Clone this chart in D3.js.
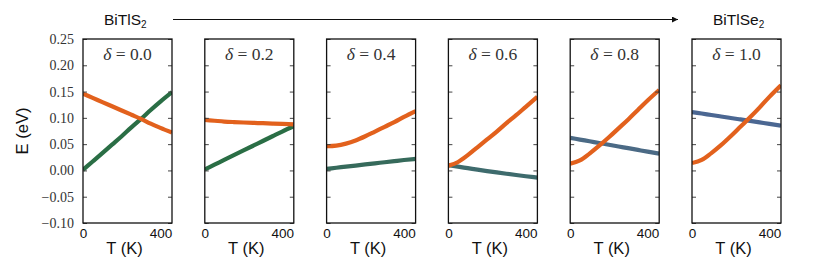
<!DOCTYPE html>
<html>
<head>
<meta charset="utf-8">
<script src="https://cdn.jsdelivr.net/npm/d3@7"></script>
<style>
  body { margin: 0; background: #fff; }
  svg { display: block; }
</style>
</head>
<body>
<svg id="chart" width="830" height="266"></svg>
<script>
// composition steps, BiTlS2 -> BiTlSe2
const deltas = [0.0, 0.2, 0.4, 0.6, 0.8, 1.0]
const temps = [0, 50, 100, 150, 200, 250, 300, 350, 400, 460]

// orange band (one row per delta)
const orangeBand = [
  [0.146, 0.138, 0.130, 0.122, 0.114, 0.106, 0.098, 0.089, 0.081, 0.072],
  [0.096, 0.0945, 0.093, 0.092, 0.0912, 0.0905, 0.0898, 0.0891, 0.0884, 0.0876],
  [0.046, 0.0472, 0.051, 0.057, 0.065, 0.074, 0.083, 0.092, 0.102, 0.113],
  [0.009, 0.016, 0.029, 0.044, 0.059, 0.074, 0.090, 0.105, 0.121, 0.140],
  [0.013, 0.019, 0.032, 0.047, 0.063, 0.080, 0.097, 0.115, 0.133, 0.153],
  [0.014, 0.020, 0.033, 0.048, 0.065, 0.083, 0.101, 0.120, 0.140, 0.162]
]

// second band
const otherBand = [
  [0.001, 0.017, 0.033, 0.049, 0.065, 0.082, 0.098, 0.115, 0.131, 0.149],
  [0.002, 0.011, 0.020, 0.029, 0.038, 0.047, 0.056, 0.065, 0.074, 0.084],
  [0.003, 0.0051, 0.0072, 0.0093, 0.0114, 0.0135, 0.0156, 0.0177, 0.0198, 0.022],
  [0.010, 0.0071, 0.0043, 0.0015, -0.0012, -0.0038, -0.0063, -0.0087, -0.011, -0.0137],
  [0.062, 0.0587, 0.0554, 0.0521, 0.0489, 0.0456, 0.0423, 0.039, 0.0357, 0.032],
  [0.111, 0.1082, 0.1054, 0.1026, 0.0998, 0.097, 0.0942, 0.0914, 0.0886, 0.085]
]

const orangeColor = '#e2611d'
const otherColors = ['#2a6e45', '#2a6e45', '#366a5b', '#3e6b6d', '#4b6a85', '#4b6792']

const yTicks = [0.25, 0.20, 0.15, 0.10, 0.05, 0.00, -0.05, -0.10]
const xTicks = [0, 400]

const sans = 'Liberation Sans, Arial, sans-serif'
const serif = 'Liberation Serif, DejaVu Serif, serif'

const svg = d3.select('#chart')
const panel = { width: 89, height: 184, top: 39 }
const panelLeft = d3.scaleLinear().domain([0, 5]).range([83, 692])

const x = d3.scaleLinear().domain([0, 460]).range([0, panel.width])
const y = d3.scaleLinear().domain([-0.10, 0.25]).range([panel.height, 0])

const line = d3.line()
  .x((d, i) => x(temps[i]))
  .y(d => y(d))
  .curve(d3.curveMonotoneX)

svg.append('defs').append('clipPath')
  .attr('id', 'clip')
  .append('rect')
  .attr('width', panel.width)
  .attr('height', panel.height)

deltas.forEach((delta, i) => {
  const g = svg.append('g')
    .attr('transform', `translate(${panelLeft(i)}, ${panel.top})`)

  const lines = g.append('g').attr('clip-path', 'url(#clip)')
  lines.append('path')
    .attr('d', line(otherBand[i]))
    .attr('fill', 'none')
    .attr('stroke', otherColors[i])
    .attr('stroke-width', 4.2)
  lines.append('path')
    .attr('d', line(orangeBand[i]))
    .attr('fill', 'none')
    .attr('stroke', orangeColor)
    .attr('stroke-width', 4.2)

  const left = g.append('g')
    .call(d3.axisLeft(y)
      .tickValues(yTicks)
      .tickSizeInner(-4)
      .tickSizeOuter(0)
      .tickPadding(9)
      .tickFormat(i === 0 ? d3.format('.2f') : ''))
  left.select('.domain').remove()
  left.selectAll('line').attr('stroke', '#444')
  left.selectAll('text')
    .attr('font-family', serif)
    .attr('font-size', 14)
    .attr('fill', '#333')

  const right = g.append('g')
    .attr('transform', `translate(${panel.width}, 0)`)
    .call(d3.axisRight(y).tickValues(yTicks).tickSizeInner(-4).tickSizeOuter(0).tickFormat(''))
  right.select('.domain').remove()
  right.selectAll('line').attr('stroke', '#444')

  const bottom = g.append('g')
    .attr('transform', `translate(0, ${panel.height})`)
    .call(d3.axisBottom(x).tickValues(xTicks).tickSize(0).tickPadding(5))
  bottom.select('.domain').remove()
  bottom.selectAll('text')
    .attr('font-family', sans)
    .attr('font-size', 13.5)
    .attr('fill', '#111')

  g.append('rect')
    .attr('width', panel.width)
    .attr('height', panel.height)
    .attr('fill', 'none')
    .attr('stroke', '#111')
    .attr('stroke-width', 1.3)

  const title = g.append('text')
    .attr('x', panel.width / 2)
    .attr('y', 21)
    .attr('text-anchor', 'middle')
    .attr('font-family', serif)
    .attr('font-size', 17.5)
    .attr('fill', '#333')
  title.append('tspan').attr('font-style', 'italic').text('δ')
  title.append('tspan').text(' = ' + delta.toFixed(1))

  g.append('text')
    .attr('x', panel.width / 2 - 3)
    .attr('y', panel.height + 31)
    .attr('text-anchor', 'middle')
    .attr('font-family', sans)
    .attr('font-size', 16.5)
    .attr('fill', '#111')
    .text('T (K)')
})

svg.append('text')
  .attr('transform', `translate(28, ${panel.top + panel.height / 2}) rotate(-90)`)
  .attr('text-anchor', 'middle')
  .attr('font-family', sans)
  .attr('font-size', 16.5)
  .attr('fill', '#111')
  .text('E (eV)')

// composition arrow
svg.append('defs').append('marker')
  .attr('id', 'head')
  .attr('viewBox', '0 0 10 10')
  .attr('refX', 10)
  .attr('refY', 5)
  .attr('markerWidth', 18)
  .attr('markerHeight', 6)
  .attr('markerUnits', 'userSpaceOnUse')
  .attr('orient', 'auto')
  .append('path')
  .attr('d', 'M0,0 L10,5 L0,10 Z')
  .attr('fill', '#111')

svg.append('line')
  .attr('x1', 173).attr('x2', 678)
  .attr('y1', 19.5).attr('y2', 19.5)
  .attr('stroke', '#111')
  .attr('stroke-width', 1.2)
  .attr('marker-end', 'url(#head)')

function formula (xPos, base, sub) {
  const t = svg.append('text')
    .attr('x', xPos)
    .attr('y', 25)
    .attr('font-family', sans)
    .attr('font-size', 15.5)
    .attr('fill', '#111')
  t.append('tspan').text(base)
  t.append('tspan').attr('font-size', 10).attr('dy', 3).text(sub)
}
formula(104, 'BiTlS', '2')
formula(713, 'BiTlSe', '2')
</script>
</body>
</html>
